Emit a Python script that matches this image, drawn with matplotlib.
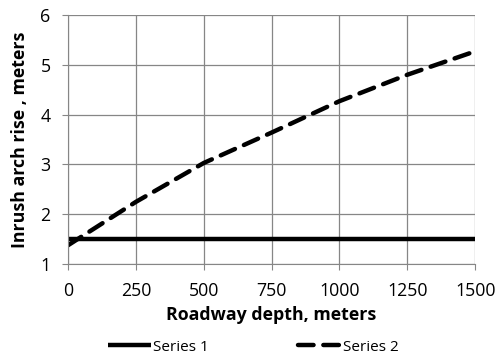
import matplotlib
matplotlib.use("Agg")
import matplotlib.pyplot as plt

depth1 = [0, 1500]
rise1 = [1.5, 1.5]
depth2 = [0, 250, 500, 750, 1000, 1250, 1500]
rise2 = [1.38, 2.25, 3.03, 3.64, 4.27, 4.8, 5.27]
xticks = [0, 250, 500, 750, 1000, 1250, 1500]
yticks = [1, 2, 3, 4, 5, 6]

plt.rcParams['font.family'] = ['Open Sans', 'DejaVu Sans']
fig = plt.figure(figsize=(4.97, 3.56), dpi=100)
ax = fig.add_axes([0.137, 0.258, 0.819, 0.7])
l1, = ax.plot(depth1, rise1, color='black', lw=3.2, solid_capstyle='butt', label='Series 1')
l2, = ax.plot(depth2, rise2, color='black', lw=3.2, linestyle=(0, (3.5, 2.2)), dash_capstyle='round', label='Series 2')
ax.set_xlim(0, 1500)
ax.set_ylim(1, 6)
ax.set_xticks(xticks)
ax.set_yticks(yticks)
ax.grid(True, color='#868686', lw=0.9)
for s in ['top', 'right']:
    ax.spines[s].set_visible(False)
for s in ['left', 'bottom']:
    ax.spines[s].set_color('#868686')
ax.tick_params(axis='both', length=4.5, color='#868686', labelsize=12.8)
ax.tick_params(axis='x', pad=8)
ax.tick_params(axis='y', pad=8)
ax.set_xlabel('Roadway depth, meters', fontsize=12.8, fontweight='bold', labelpad=5)
ax.set_ylabel('Inrush arch rise , meters', fontsize=12.8, fontweight='bold', labelpad=8)
fig.legend(handles=[l1, l2], loc='lower center', bbox_to_anchor=(0.51, -0.035), ncol=2, frameon=False,
           fontsize=11, handlelength=2.8, columnspacing=5.8, handletextpad=0.15)
fig.savefig('out.png', dpi=100)
